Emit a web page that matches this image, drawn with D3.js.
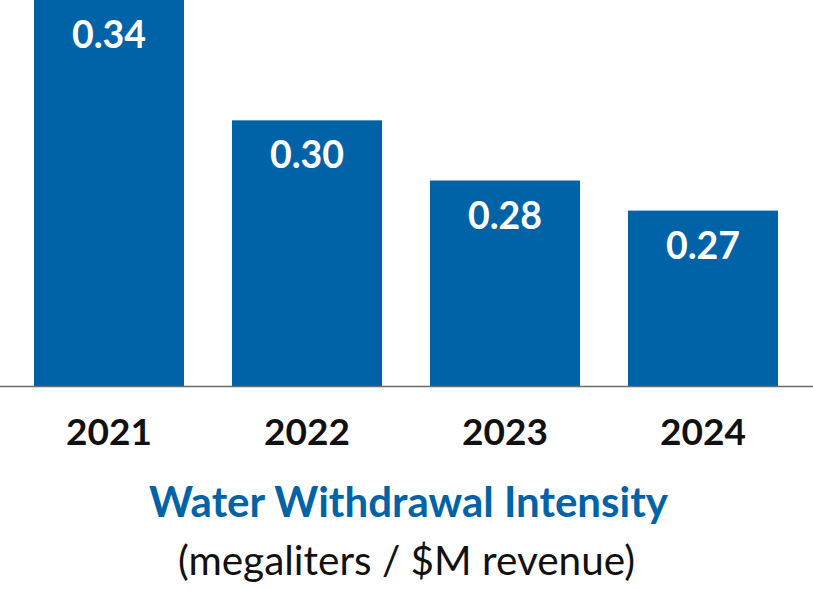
<!DOCTYPE html>
<html>
<head>
<meta charset="utf-8">
<script src="https://cdn.jsdelivr.net/npm/d3@7"></script>
<style>
html,body{margin:0;padding:0;background:#fff;}
svg{display:block;font-family:Lato, "Open Sans", sans-serif;}
</style>
</head>
<body>
<svg id="chart" width="813" height="589"></svg>
<script>
const years = ["2021", "2022", "2023", "2024"];
const values = [0.34, 0.30, 0.28, 0.27];
const valueLabels = ["0.34", "0.30", "0.28", "0.27"];
const title = "Water Withdrawal Intensity";
const subtitle = "(megaliters / $M revenue)";

const svg = d3.select("#chart");
const W = 813;
const baseY = 386;

const x = d3.scaleBand()
  .domain(years)
  .range([10, 802])
  .paddingInner(0.2424)
  .paddingOuter(0.1212);

const y = d3.scaleLinear()
  .domain([0.2117, 0.34])
  .range([baseY, 0]);

const data = years.map((yr, i) => ({year: yr, value: values[i], label: valueLabels[i]}));

svg.selectAll("rect.bar")
  .data(data)
  .join("rect")
  .attr("class", "bar")
  .attr("x", d => x(d.year))
  .attr("width", x.bandwidth())
  .attr("y", d => y(d.value))
  .attr("height", d => baseY - y(d.value))
  .attr("fill", "#0063A7");

svg.append("line")
  .attr("x1", 0).attr("x2", W)
  .attr("y1", baseY + 0.5).attr("y2", baseY + 0.5)
  .attr("stroke", "#6b6b6b")
  .attr("stroke-width", 1.5);

svg.selectAll("text.val")
  .data(data)
  .join("text")
  .attr("class", "val")
  .attr("x", d => x(d.year) + x.bandwidth() / 2)
  .attr("y", d => y(d.value) + 48)
  .attr("text-anchor", "middle")
  .attr("fill", "#fff")
  .attr("font-weight", 700)
  .attr("font-size", 37.5)
  .text(d => d.label);

const xAxis = d3.axisBottom(x).tickSize(0).tickPadding(0);
const gx = svg.append("g")
  .attr("transform", `translate(0,${baseY})`)
  .call(xAxis);
gx.select(".domain").remove();
gx.selectAll("text")
  .attr("dy", null)
  .attr("y", 59)
  .attr("fill", "#111")
  .attr("font-family", "Lato, sans-serif")
  .attr("font-weight", 700)
  .attr("font-size", 37);

svg.append("text")
  .attr("x", 408.5)
  .attr("y", 517)
  .attr("text-anchor", "middle")
  .attr("fill", "#0063A7")
  .attr("font-weight", 700)
  .attr("font-size", 42)
  .text(title);

svg.append("text")
  .attr("x", 406.5)
  .attr("y", 575)
  .attr("text-anchor", "middle")
  .attr("fill", "#111")
  .attr("font-weight", 400)
  .attr("font-size", 40.5)
  .text(subtitle);
</script>
</body>
</html>
